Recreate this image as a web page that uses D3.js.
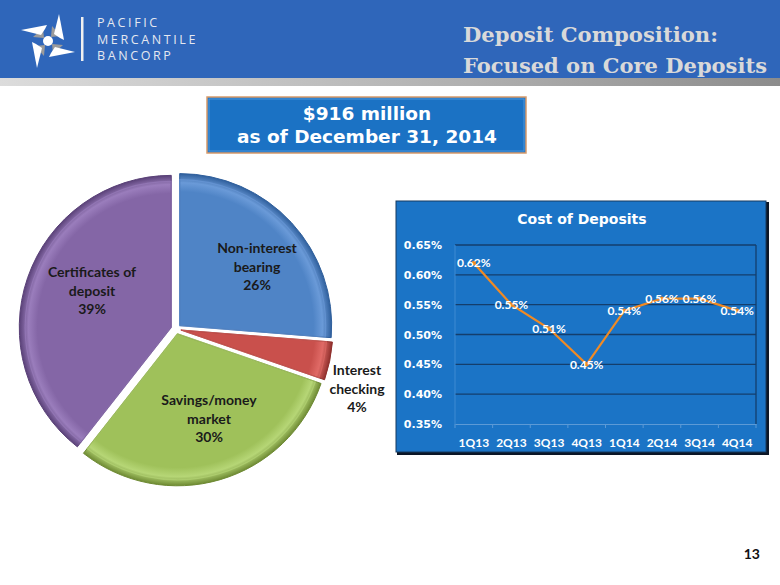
<!DOCTYPE html>
<html><head><meta charset="utf-8">
<script src="https://cdn.jsdelivr.net/npm/d3@7"></script>
<style>html,body{margin:0;padding:0;background:#fff;}svg{display:block;}</style>
</head><body>
<svg id="c" width="780" height="585"></svg>
<script>
// ---- data ----
const pieCategories = ["Non-interest bearing", "Interest checking", "Savings/money market", "Certificates of deposit"];
const pieValues = [26, 4, 30, 39];
const pieLabelLines = [["Non-interest", "bearing", "26%"], ["Interest", "checking", "4%"], ["Savings/money", "market", "30%"], ["Certificates of", "deposit", "39%"]];
const quarters = ["1Q13", "2Q13", "3Q13", "4Q13", "1Q14", "2Q14", "3Q14", "4Q14"];
const costValues = [0.62, 0.55, 0.51, 0.45, 0.54, 0.56, 0.56, 0.54];
const yTicks = [0.35, 0.40, 0.45, 0.50, 0.55, 0.60, 0.65];
const titleLines = ["Deposit Composition:", "Focused on Core Deposits"];
const boxLines = ["$916 million", "as of December 31, 2014"];
const logoLines = ["PACIFIC", "MERCANTILE", "BANCORP"];

const svg = d3.select("#c");
const defs = svg.append("defs");

// ---- header ----
svg.append("rect").attr("x",0).attr("y",0).attr("width",780).attr("height",78).attr("fill","#2f66ba");
const hg = defs.append("linearGradient").attr("id","hg").attr("x1","0").attr("x2","1");
hg.append("stop").attr("offset","0").attr("stop-color","#dcdcdc");
hg.append("stop").attr("offset","0.6").attr("stop-color","#b0b0b0");
hg.append("stop").attr("offset","1").attr("stop-color","#8c8c8c");
svg.append("rect").attr("x",0).attr("y",78).attr("width",780).attr("height",8).attr("fill","url(#hg)");

// logo (pinwheel)
const logo = svg.append("g").attr("transform","translate(48,41)");
[0,90,180,270].forEach(a=>{
  const g = logo.append("g").attr("transform",`rotate(${a})`);
  g.append("path").attr("d","M-15,-4 L-5,-13 L-4,-3 Z").attr("fill","#9b9b9b");
  g.append("path").attr("d","M-27,-11 L-1,-16 L-3,-12 L-7,-6 Z").attr("fill","#ffffff");
});
logo.append("circle").attr("r",5).attr("fill","#fff");
svg.append("rect").attr("x",81).attr("y",17).attr("width",2.5).attr("height",44).attr("fill","#f0f0f0");
svg.append("g").selectAll("text").data(logoLines).join("text")
  .attr("x",97).attr("y",(d,i)=>27+i*16.5)
  .attr("font-family","Open Sans, sans-serif").attr("font-size",12.5).attr("letter-spacing",2.6)
  .attr("fill","#e4e8f0").text(d=>d);

// title
const titleWidths = [255, 304];
svg.append("g").selectAll("text").data(titleLines).join("text")
  .attr("x",463).attr("y",(d,i)=>42+i*31)
  .attr("font-family","DejaVu Serif, serif").attr("font-weight","bold").attr("font-size",21)
  .attr("textLength",(d,i)=>titleWidths[i]).attr("lengthAdjust","spacingAndGlyphs")
  .attr("fill","#d9d9d9").text(d=>d);

// ---- $916 box ----
svg.append("rect").attr("x",207).attr("y",97).attr("width",319).attr("height",56)
  .attr("fill","#1b72c4").attr("stroke","#d89a6a").attr("stroke-width",1.5);
svg.append("rect").attr("x",209).attr("y",99).attr("width",315).attr("height",52)
  .attr("fill","none").attr("stroke","#4d95da").attr("stroke-width",1);
svg.append("g").selectAll("text").data(boxLines).join("text")
  .attr("x",367).attr("y",(d,i)=>120+i*23).attr("text-anchor","middle")
  .attr("font-family","DejaVu Sans, sans-serif").attr("font-weight","bold").attr("font-size",18.5)
  .attr("fill","#ffffff").text(d=>d);

// ---- pie ----
const pieColors = ["#4f84c6", "#c9504c", "#9fc15a", "#8466a6"];
const pieDark = ["#2f5f9c", "#8f2f2c", "#6e8a33", "#5a4178"];
const pieLight = ["#6a9ad8", "#e06a66", "#b6d676", "#9a7dbc"];
pieColors.forEach((c,i)=>{
  const rg = defs.append("radialGradient").attr("id","pg"+i).attr("gradientUnits","userSpaceOnUse")
    .attr("cx",0).attr("cy",0).attr("r",152);
  rg.append("stop").attr("offset","0").attr("stop-color",pieColors[i]);
  rg.append("stop").attr("offset","0.88").attr("stop-color",pieColors[i]);
  rg.append("stop").attr("offset","0.94").attr("stop-color",pieLight[i]);
  rg.append("stop").attr("offset","1").attr("stop-color",pieDark[i]);
});
const pie = d3.pie().sort(null).value(d=>d)(pieValues);
const R = 152, cx = 176, cy = 329, explode = 5;
const arc = d3.arc().innerRadius(0).outerRadius(R);
const pg = svg.append("g").attr("transform",`translate(${cx},${cy})`);
pg.selectAll("g.sl").data(pie).join("g").attr("class","sl")
  .attr("transform",d=>{const m=(d.startAngle+d.endAngle)/2;return `translate(${Math.sin(m)*explode},${-Math.cos(m)*explode})`;})
  .each(function(d,i){
    const g = d3.select(this);
    g.append("path").attr("d",arc(d)).attr("fill",`url(#pg${i})`).attr("stroke",pieDark[i]).attr("stroke-width",1);
    g.append("path").attr("d",d3.arc().innerRadius(0).outerRadius(R-6)(d)).attr("fill","none")
      .attr("stroke",pieLight[i]).attr("stroke-width",1.2).attr("opacity",0.6);
  });
const labelPos = [[257,253],[357,375],[209,405],[92,277]];
pieLabelLines.forEach((lines,i)=>{
  svg.append("g").selectAll("text").data(lines).join("text")
    .attr("x",labelPos[i][0]).attr("y",(d,j)=>labelPos[i][1]+j*18.5).attr("text-anchor","middle")
    .attr("font-family","Lato, sans-serif").attr("font-weight","bold").attr("font-size",14)
    .attr("fill","#1a1a1a").text(d=>d);
});

// ---- line chart panel ----
svg.append("rect").attr("x",397).attr("y",202).attr("width",372).attr("height",253).attr("fill","#0b1626");
svg.append("rect").attr("x",396).attr("y",201).attr("width",370).attr("height",251).attr("fill","#1b74c6")
  .attr("stroke","#163a60").attr("stroke-width",1);
svg.append("text").attr("x",582).attr("y",224).attr("text-anchor","middle")
  .attr("font-family","DejaVu Sans, sans-serif").attr("font-weight","bold").attr("font-size",14)
  .attr("fill","#fff").text("Cost of Deposits");

const x = d3.scaleBand().domain(quarters).range([455,756]);
const y = d3.scaleLinear().domain([0.35,0.65]).range([424,245]);
const grid = svg.append("g");
grid.selectAll("line").data(yTicks.slice(1)).join("line")
  .attr("x1",455).attr("x2",756).attr("y1",d=>y(d)).attr("y2",d=>y(d))
  .attr("stroke","#143e6c").attr("stroke-width",1.3);
svg.append("line").attr("x1",756).attr("x2",756).attr("y1",245).attr("y2",424).attr("stroke","#143e6c").attr("stroke-width",1.3);
svg.append("line").attr("x1",455).attr("x2",455).attr("y1",245).attr("y2",424).attr("stroke","#3f8ad2").attr("stroke-width",1);

const yAxis = svg.append("g").attr("transform","translate(455,0)")
  .call(d3.axisLeft(y).tickValues(yTicks).tickSize(0).tickPadding(13).tickFormat(d=>d.toFixed(2)+"%"));
yAxis.select(".domain").remove();
yAxis.selectAll("text").attr("font-family","DejaVu Sans, sans-serif").attr("font-weight","bold").attr("font-size",11).attr("fill","#fff");

const xAxis = svg.append("g").attr("transform","translate(0,424)")
  .call(d3.axisBottom(x).tickSize(0).tickPadding(14));
xAxis.select(".domain").attr("stroke","#5c9ad6").attr("stroke-width",1.2);
xAxis.selectAll("text").attr("font-family","Lato, sans-serif").attr("font-weight","bold").attr("font-size",12).attr("fill","#fff");
svg.append("g").selectAll("line").data(quarters.concat(["end"])).join("line")
  .attr("x1",(d,i)=>455+i*x.step()).attr("x2",(d,i)=>455+i*x.step()).attr("y1",424).attr("y2",428)
  .attr("stroke","#5c9ad6");

const line = d3.line().x((d,i)=>x(quarters[i])+x.bandwidth()/2).y(d=>y(d));
svg.append("path").attr("d",line(costValues)).attr("fill","none").attr("stroke","#f08a24").attr("stroke-width",2.2);
svg.append("g").selectAll("circle").data(costValues).join("circle")
  .attr("cx",(d,i)=>x(quarters[i])+x.bandwidth()/2).attr("cy",d=>y(d)).attr("r",2.2).attr("fill","#f08a24");
svg.append("g").selectAll("text").data(costValues).join("text")
  .attr("x",(d,i)=>x(quarters[i])+x.bandwidth()/2).attr("y",d=>y(d)+4.5).attr("text-anchor","middle")
  .attr("font-family","Lato, sans-serif").attr("font-weight","bold").attr("font-size",12).attr("fill","#fff")
  .text(d=>d.toFixed(2)+"%");

// page number
svg.append("text").attr("x",760).attr("y",559).attr("text-anchor","end")
  .attr("font-family","Lato, sans-serif").attr("font-weight","bold").attr("font-size",14).attr("fill","#111").text("13");
</script>
</body></html>
